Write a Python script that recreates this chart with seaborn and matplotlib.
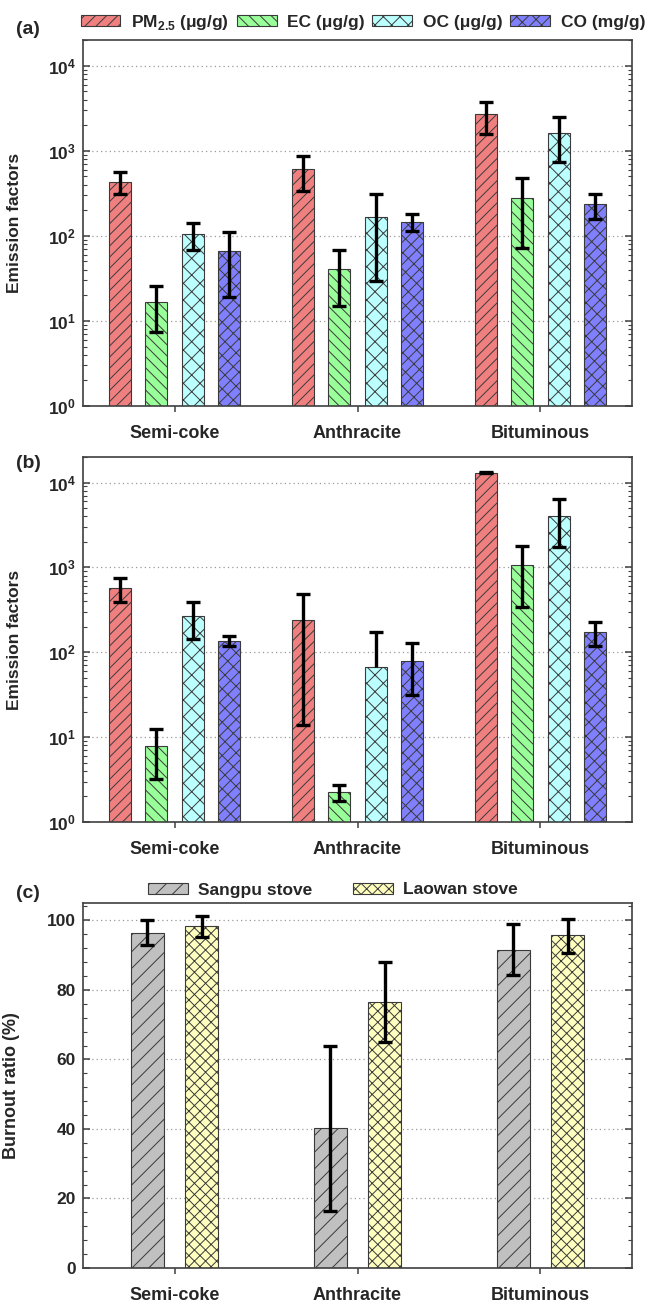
#!/usr/bin/python3
#
# Emission factors (a, b) and burnout ratio (c) for three coal types.

import numpy as np
import pandas as pd
import matplotlib
matplotlib.use("Agg")
import matplotlib.pyplot as plt
import matplotlib.ticker as ticker
import matplotlib.patches as mpatches
import seaborn as sns

fuels = ["Semi-coke", "Anthracite", "Bituminous"]
species = ["PM$_{\\mathdefault{2.5}}$ (μg/g)", "EC (μg/g)", "OC (μg/g)", "CO (mg/g)"]
species_colors = ["#F08080", "#99FF99", "#BBFFFF", "#8080FF"]
species_hatches = ["///", "\\\\\\", "xx", "///\\\\"]

# panel (a): values per species, rows follow `fuels`
a_val = {"PM": [432, 603, 2675], "EC": [16.7, 41.3, 275], "OC": [105, 167, 1600], "CO": [66, 146, 236]}
a_hi = {"PM": [566, 873, 3770], "EC": [26, 67.8, 481], "OC": [140, 309, 2466], "CO": [112, 180, 312]}
a_lo = {"PM": [309, 335, 1570], "EC": [7.4, 14.9, 72], "OC": [69, 29.3, 736], "CO": [19.2, 114, 157]}

# panel (b)
b_val = {"PM": [566, 240, 13100], "EC": [7.77, 2.23, 1065], "OC": [267, 67.8, 4015], "CO": [137, 79, 172]}
b_hi = {"PM": [750, 481, 13250], "EC": [12.4, 2.75, 1800], "OC": [394, 172, 6370], "CO": [156, 128, 225]}
b_lo = {"PM": [387, 14.0, 13050], "EC": [3.2, 1.78, 338], "OC": [142, np.nan, 1750], "CO": [119, 31.5, 120]}

# panel (c): burnout ratio (%)
stoves = ["Sangpu stove", "Laowan stove"]
stove_colors = ["#C0C0C0", "#FFFFC0"]
stove_hatches = ["//", "xxx"]
c_val = {"Sangpu stove": [96.5, 40.2, 91.6], "Laowan stove": [98.3, 76.6, 95.7]}
c_hi = {"Sangpu stove": [100.0, 63.9, 98.9], "Laowan stove": [101.3, 88.0, 100.5]}
c_lo = {"Sangpu stove": [92.8, 16.5, 84.2], "Laowan stove": [95.2, 64.9, 90.7]}

keys = ["PM", "EC", "OC", "CO"]

sns.set_style("ticks")
plt.rcParams["font.family"] = ["Liberation Sans", "DejaVu Sans"]
plt.rcParams["font.weight"] = "bold"
plt.rcParams["axes.labelweight"] = "bold"
plt.rcParams["hatch.linewidth"] = 0.7

EDGE = "#3a3a3a"
SPINE = "#404040"


def long_df(vals, names, key_list):
    rows = []
    for name, k in zip(names, key_list):
        for fuel, v in zip(fuels, vals[k]):
            rows.append({"fuel": fuel, "group": name, "value": v})
    return pd.DataFrame(rows)


def draw_errors(ax, vals, his, los, key_list):
    for cont, k in zip(ax.containers, key_list):
        xs = np.array([p.get_x() + p.get_width() / 2 for p in cont.patches])
        v = np.array(vals[k], dtype=float)
        hi = np.array(his[k], dtype=float)
        lo = np.array(los[k], dtype=float)
        low_end = np.where(np.isnan(lo), v, lo)
        ax.vlines(xs, low_end, hi, color="black", lw=2.4, zorder=5)
        ax.plot(xs, hi, ls="none", marker="_", ms=10, mew=2.4, color="black", zorder=5)
        ok = ~np.isnan(lo)
        ax.plot(xs[ok], lo[ok], ls="none", marker="_", ms=10, mew=2.4, color="black", zorder=5)


def style_axes(ax):
    for s in ax.spines.values():
        s.set_color(SPINE)
        s.set_linewidth(1.2)
    ax.set_axisbelow(True)
    ax.grid(axis="y", which="major", linestyle=(0, (1, 2.5)), color="#9a9a9a", lw=0.9)
    ax.tick_params(axis="y", which="both", direction="in", left=True, right=True,
                   labelsize=12.5, pad=5, color=SPINE)
    ax.tick_params(axis="y", which="major", length=5, width=1.1)
    ax.tick_params(axis="y", which="minor", length=3, width=0.8)
    ax.tick_params(axis="x", which="both", direction="out", length=4, width=1.1,
                   top=False, labelsize=13, pad=10, color=SPINE)
    ax.set_xlabel("")
    ax.set_xlim(-0.5, 2.5)


fig = plt.figure(figsize=(6.49, 13.06), dpi=100)
ax_a = fig.add_axes([0.1279, 0.6891, 0.8459, 0.2802])
ax_b = fig.add_axes([0.1279, 0.3706, 0.8459, 0.2795])
ax_c = fig.add_axes([0.1279, 0.0291, 0.8459, 0.2795])

for ax, vals, his, los in [(ax_a, a_val, a_hi, a_lo), (ax_b, b_val, b_hi, b_lo)]:
    df = long_df(vals, species, keys)
    sns.barplot(data=df, x="fuel", y="value", hue="group", order=fuels, hue_order=species,
                palette=species_colors, saturation=1, width=0.8, gap=0.4, errorbar=None,
                edgecolor=EDGE, linewidth=0.8, legend=False, ax=ax)
    for cont, h in zip(ax.containers, species_hatches):
        for p in cont.patches:
            p.set_hatch(h)
    ax.set_yscale("log")
    ax.set_ylim(1, 2e4)
    ax.yaxis.set_major_locator(ticker.LogLocator(base=10, numticks=10))
    ax.yaxis.set_minor_locator(ticker.LogLocator(base=10, subs=np.arange(2, 10), numticks=20))
    ax.yaxis.set_minor_formatter(ticker.NullFormatter())
    draw_errors(ax, vals, his, los, keys)
    style_axes(ax)
    ax.set_ylabel("Emission factors", fontsize=12.5)
    ax.yaxis.set_label_coords(-0.111, 0.5)

df_c = long_df(c_val, stoves, stoves)
sns.barplot(data=df_c, x="fuel", y="value", hue="group", order=fuels, hue_order=stoves,
            palette=stove_colors, saturation=1, width=0.6, gap=0.4, errorbar=None,
            edgecolor=EDGE, linewidth=0.8, legend=False, ax=ax_c)
for cont, h in zip(ax_c.containers, stove_hatches):
    for p in cont.patches:
        p.set_hatch(h)
ax_c.set_ylim(0, 105)
ax_c.yaxis.set_major_locator(ticker.MultipleLocator(20))
ax_c.yaxis.set_minor_locator(ticker.MultipleLocator(4))
draw_errors(ax_c, c_val, c_hi, c_lo, stoves)
style_axes(ax_c)
ax_c.set_ylabel("Burnout ratio (%)", fontsize=13)
ax_c.yaxis.set_label_coords(-0.115, 0.5)

# legends
handles_a = [mpatches.Patch(facecolor=c, edgecolor=EDGE, hatch=h, lw=0.8, label=n)
             for n, c, h in zip(species, species_colors, species_hatches)]
fig.legend(handles=handles_a, loc="center", bbox_to_anchor=(0.559, 1 - 22 / 1306), ncol=4,
           frameon=False, fontsize=12.5, handlelength=2.3, handleheight=0.6,
           handletextpad=0.6, columnspacing=0.45, borderaxespad=0, borderpad=0)

handles_c = [mpatches.Patch(facecolor=c, edgecolor=EDGE, hatch=h, lw=0.8, label=n)
             for n, c, h in zip(stoves, stove_colors, stove_hatches)]
fig.legend(handles=handles_c, loc="center", bbox_to_anchor=(0.513, 1 - 890 / 1306), ncol=2,
           frameon=False, fontsize=12.5, handlelength=2.3, handleheight=0.6,
           handletextpad=0.6, columnspacing=2.3, borderaxespad=0, borderpad=0)

# panel letters
for label, ypix in [("(a)", 29), ("(b)", 464), ("(c)", 894)]:
    fig.text(28 / 649, 1 - ypix / 1306, label, ha="center", va="center",
             fontsize=14, fontweight="bold")

fig.savefig("out.png", dpi=100)
